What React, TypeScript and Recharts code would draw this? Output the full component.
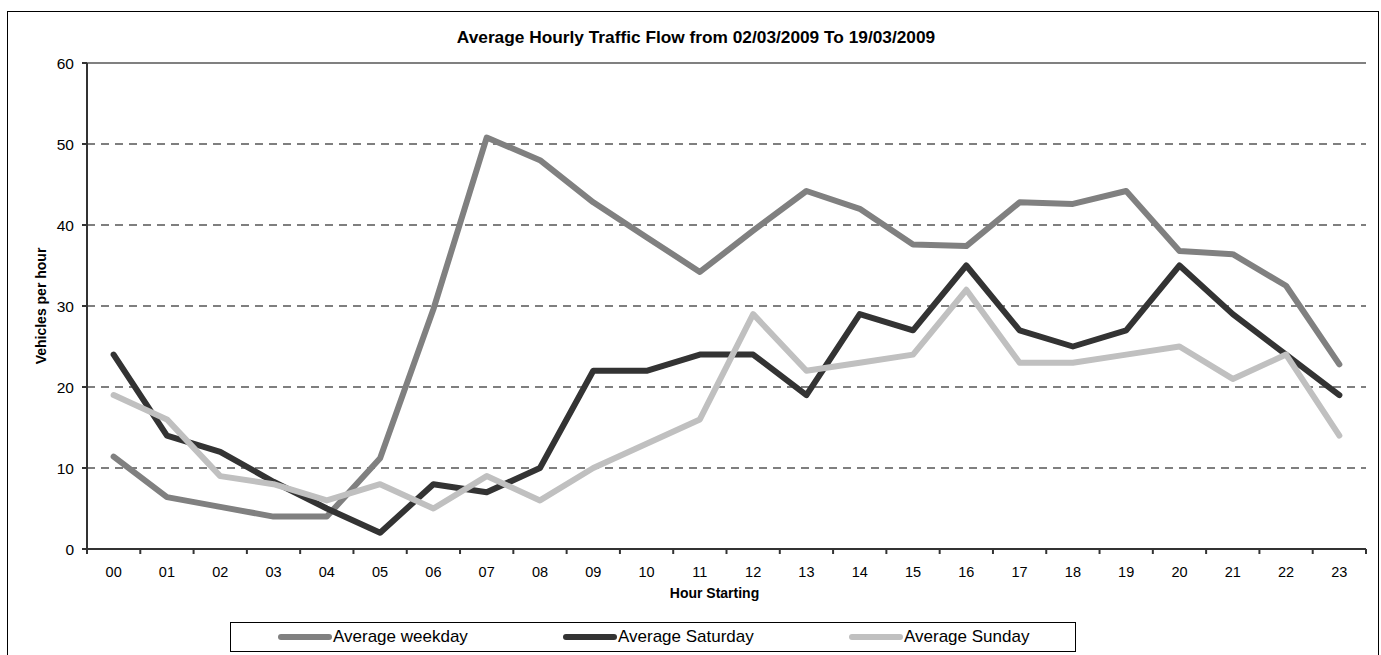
import React from 'react';
import {
  LineChart,
  Line,
  XAxis,
  YAxis,
  CartesianGrid,
  ReferenceLine,
} from 'recharts';

const hours = [
  '00', '01', '02', '03', '04', '05', '06', '07', '08', '09', '10', '11',
  '12', '13', '14', '15', '16', '17', '18', '19', '20', '21', '22', '23',
];
const weekday = [
  11.4, 6.4, 5.2, 4, 4, 11.2, 29.6, 50.8, 48, 42.8, 38.5, 34.2,
  39.3, 44.2, 42, 37.6, 37.4, 42.8, 42.6, 44.2, 36.8, 36.4, 32.5, 22.8,
];
const saturday = [
  24, 14, 12, 8.3, 5, 2, 8, 7, 10, 22, 22, 24,
  24, 19, 29, 27, 35, 27, 25, 27, 35, 29, 24, 19,
];
const sunday = [
  19, 16, 9, 8, 6, 8, 5, 9, 6, 10, 13, 16,
  29, 22, 23, 24, 32, 23, 23, 24, 25, 21, 24, 14,
];
const yTicks = [0, 10, 20, 30, 40, 50, 60];

const data = hours.map((h, i) => ({
  hour: h,
  weekday: weekday[i],
  saturday: saturday[i],
  sunday: sunday[i],
}));

const FONT = '"Liberation Sans", Arial, sans-serif';
const AXIS = '#333333';
const BAND = (1366 - 87) / 24;

const HourTick = (props: any) => {
  const { x, y, payload, index } = props;
  return (
    <g>
      <line x1={x - BAND / 2} x2={x - BAND / 2} y1={y - 5} y2={y} stroke={AXIS} strokeWidth={2} />
      {index === hours.length - 1 && (
        <line x1={x + BAND / 2} x2={x + BAND / 2} y1={y - 5} y2={y} stroke={AXIS} strokeWidth={2} />
      )}
      <text x={x} y={y + 23} textAnchor="middle" fontSize={14.5} fontFamily={FONT} fill="#000">
        {payload.value}
      </text>
    </g>
  );
};

const series = [
  { name: 'Average weekday', color: '#808080', left: 47 },
  { name: 'Average Saturday', color: '#333333', left: 332 },
  { name: 'Average Sunday', color: '#c0c0c0', left: 618 },
];

const LegendBox = () => (
  <div
    style={{
      position: 'absolute',
      left: 230,
      top: 622,
      width: 846,
      height: 30,
      border: '1.5px solid #000',
      boxSizing: 'border-box',
      background: '#fff',
      fontFamily: FONT,
      fontSize: 17,
    }}
  >
    {series.map((s) => (
      <div key={s.name} style={{ position: 'absolute', left: s.left, top: 2, display: 'flex', alignItems: 'center', height: 24 }}>
        <svg width={54} height={10}>
          <line x1={3} x2={51} y1={5} y2={5} stroke={s.color} strokeWidth={6} strokeLinecap="round" />
        </svg>
        <span style={{ color: '#000', marginLeft: 1 }}>{s.name}</span>
      </div>
    ))}
  </div>
);

export default function App() {
  return (
    <div
      style={{
        position: 'absolute',
        left: 0,
        top: 0,
        width: 1381,
        height: 655,
        overflow: 'hidden',
        background: '#fff',
        fontFamily: FONT,
      }}
    >
      <div
        style={{
          position: 'absolute',
          left: 7,
          top: 11,
          width: 1370,
          height: 700,
          border: '1.5px solid #000',
        }}
      />
      <div
        style={{
          position: 'absolute',
          left: 7,
          top: 27,
          width: 1378,
          textAlign: 'center',
          fontWeight: 'bold',
          fontSize: 17.3,
          lineHeight: '20px',
        }}
      >
        Average Hourly Traffic Flow from 02/03/2009 To 19/03/2009
      </div>
      <div style={{ position: 'absolute', left: 0, top: 0 }}>
        <LineChart
          width={1381}
          height={655}
          data={data}
          margin={{ top: 63, right: 15, bottom: 76, left: 27 }}
        >
          <CartesianGrid yAxisId="left" vertical={false} stroke="#000" strokeDasharray="8 6" strokeWidth={1.2} />
          <XAxis
            dataKey="hour"
            scale="band"
            height={30}
            axisLine={{ stroke: AXIS, strokeWidth: 2 }}
            tickLine={false}
            tickSize={5}
            tickMargin={0}
            interval={0}
            tick={<HourTick />}
            label={{
              value: 'Hour Starting',
              position: 'bottom',
              offset: 9,
              dx: -12,
              style: { fontWeight: 'bold', fontSize: 14, fontFamily: FONT, fill: '#000' },
            }}
          />
          <YAxis
            yAxisId="left"
            width={60}
            domain={[0, 60]}
            ticks={yTicks}
            interval={0}
            axisLine={{ stroke: AXIS, strokeWidth: 2 }}
            tickLine={{ stroke: AXIS, strokeWidth: 2 }}
            tickSize={5}
            tickMargin={8}
            tick={{ fontSize: 15.5, fontFamily: FONT, fill: '#000' }}
            label={{
              value: 'Vehicles per hour',
              angle: -90,
              position: 'insideLeft',
              offset: 14,
              style: { textAnchor: 'middle', fontWeight: 'bold', fontSize: 14, fontFamily: FONT, fill: '#000' },
            }}
          />
          <YAxis
            yAxisId="right"
            orientation="right"
            width={0}
            domain={[0, 60]}
            ticks={yTicks}
            tick={false}
            tickLine={false}
            axisLine={{ stroke: '#808080', strokeWidth: 2 }}
          />
          <ReferenceLine yAxisId="left" y={60} stroke="#808080" strokeWidth={2} />
          <Line
            yAxisId="left"
            dataKey="weekday"
            name="Average weekday"
            stroke="#808080"
            strokeWidth={6}
            strokeLinejoin="round"
            strokeLinecap="round"
            dot={false}
            activeDot={false}
            isAnimationActive={false}
          />
          <Line
            yAxisId="left"
            dataKey="saturday"
            name="Average Saturday"
            stroke="#333333"
            strokeWidth={6}
            strokeLinejoin="round"
            strokeLinecap="round"
            dot={false}
            activeDot={false}
            isAnimationActive={false}
          />
          <Line
            yAxisId="left"
            dataKey="sunday"
            name="Average Sunday"
            stroke="#c0c0c0"
            strokeWidth={6}
            strokeLinejoin="round"
            strokeLinecap="round"
            dot={false}
            activeDot={false}
            isAnimationActive={false}
          />
        </LineChart>
      </div>
      <LegendBox />
    </div>
  );
}
